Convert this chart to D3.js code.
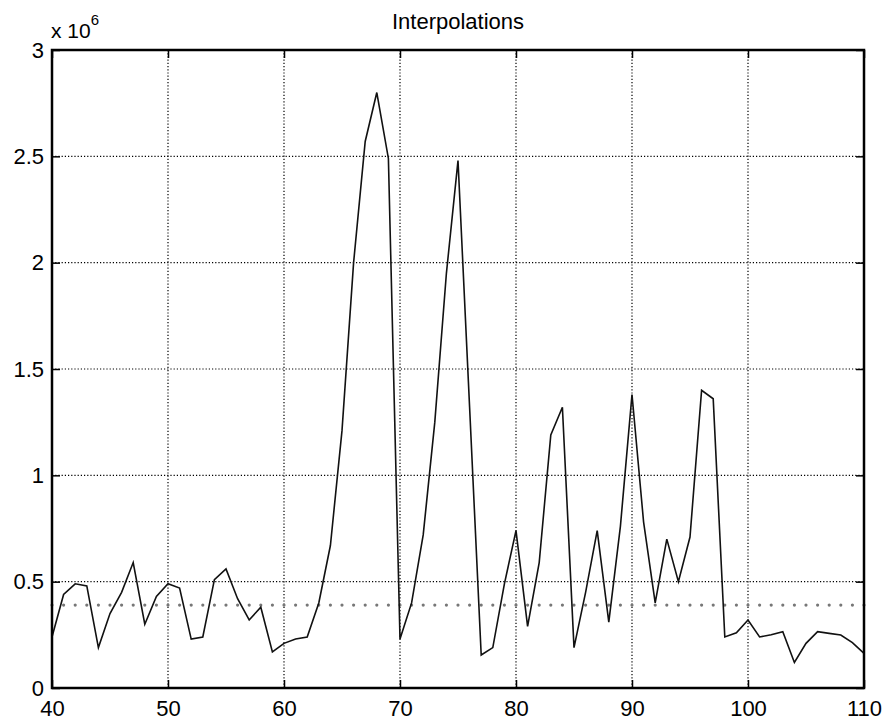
<!DOCTYPE html>
<html>
<head>
<meta charset="utf-8">
<script src="https://cdn.jsdelivr.net/npm/d3@7"></script>
<style>
  body { margin: 0; background: #fff; }
  text { font-family: Arial, "Liberation Sans", sans-serif; fill: #000; }
</style>
</head>
<body>
<svg id="chart" width="886" height="722"></svg>
<script>
// x positions (samples) and interpolation values (x 10^6)
const xs = d3.range(40, 111)
const values = [
  0.24, 0.44, 0.49, 0.48, 0.19, 0.35, 0.45, 0.59, 0.30, 0.43,
  0.49, 0.47, 0.23, 0.24, 0.51, 0.56, 0.42, 0.32, 0.38, 0.17,
  0.21, 0.23, 0.24, 0.40, 0.67, 1.21, 2.00, 2.57, 2.80, 2.49,
  0.23, 0.40, 0.72, 1.25, 1.95, 2.48, 1.32, 0.155, 0.19, 0.49,
  0.74, 0.29, 0.59, 1.19, 1.32, 0.19, 0.45, 0.74, 0.31, 0.76,
  1.38, 0.78, 0.40, 0.70, 0.50, 0.71, 1.40, 1.36, 0.24, 0.26,
  0.32, 0.24, 0.25, 0.265, 0.12, 0.21, 0.265, 0.257, 0.249, 0.213,
  0.163
]
const threshold = 0.39
const xTicks = [40, 50, 60, 70, 80, 90, 100, 110]
const yTicks = [0, 0.5, 1, 1.5, 2, 2.5, 3]
const yTickLabels = ['0', '0.5', '1', '1.5', '2', '2.5', '3']

const svg = d3.select('#chart')
const mLeft = 52, mRight = 864, mTop = 50, mBottom = 688

const x = d3.scaleLinear().domain([40, 110]).range([mLeft, mRight])
const y = d3.scaleLinear().domain([0, 3]).range([mBottom, mTop])

// grid
const grid = svg.append('g').attr('class', 'grid')
grid.selectAll('.vg').data(xTicks.slice(1, -1)).join('line')
    .attr('x1', d => x(d)).attr('x2', d => x(d))
    .attr('y1', mTop).attr('y2', mBottom)
    .attr('stroke', '#000').attr('stroke-width', 1.2).attr('stroke-dasharray', '1.2,2')
grid.selectAll('.hg').data(yTicks.slice(1, -1)).join('line')
    .attr('x1', mLeft).attr('x2', mRight)
    .attr('y1', d => y(d)).attr('y2', d => y(d))
    .attr('stroke', '#000').attr('stroke-width', 1.2).attr('stroke-dasharray', '1.2,2')

// threshold dots
svg.append('g').selectAll('circle').data(xs).join('circle')
    .attr('cx', d => x(d)).attr('cy', y(threshold))
    .attr('r', 1.6).attr('fill', '#777')

// data line
const line = d3.line().x((d, i) => x(xs[i])).y(d => y(d))
svg.append('path')
    .datum(values)
    .attr('d', line)
    .attr('fill', 'none')
    .attr('stroke', '#111')
    .attr('stroke-width', 1.6)
    .attr('stroke-linejoin', 'miter')

// axes (ticks inward, mirrored on top/right)
const axB = d3.axisBottom(x).tickValues(xTicks).tickSize(-8).tickPadding(12)
const axT = d3.axisTop(x).tickValues(xTicks).tickSize(-8).tickFormat('')
const axL = d3.axisLeft(y).tickValues(yTicks).tickSize(-8).tickPadding(8)
    .tickFormat((d, i) => yTickLabels[i])
const axR = d3.axisRight(y).tickValues(yTicks).tickSize(-8).tickFormat('')

const styleAxis = g => {
  g.select('.domain').remove()
  g.selectAll('line').attr('stroke', '#000').attr('stroke-width', 1.5)
  g.selectAll('text').style('font-size', '22px')
}
svg.append('g').attr('transform', `translate(0,${mBottom})`).call(axB).call(styleAxis)
svg.append('g').attr('transform', `translate(0,${mTop})`).call(axT).call(styleAxis)
svg.append('g').attr('transform', `translate(${mLeft},0)`).call(axL).call(styleAxis)
svg.append('g').attr('transform', `translate(${mRight},0)`).call(axR).call(styleAxis)

// box
svg.append('rect')
    .attr('x', mLeft).attr('y', mTop)
    .attr('width', mRight - mLeft).attr('height', mBottom - mTop)
    .attr('fill', 'none').attr('stroke', '#000').attr('stroke-width', 2.5)

// exponent label
const ex = svg.append('text').attr('x', mLeft - 1).attr('y', 38).style('font-size', '21px')
ex.append('tspan').text('x 10')
ex.append('tspan').attr('dy', -13).style('font-size', '15px').text('6')

// title
svg.append('text')
    .attr('x', (mLeft + mRight) / 2).attr('y', 29)
    .attr('text-anchor', 'middle')
    .style('font-size', '22px')
    .text('Interpolations')
</script>
</body>
</html>
